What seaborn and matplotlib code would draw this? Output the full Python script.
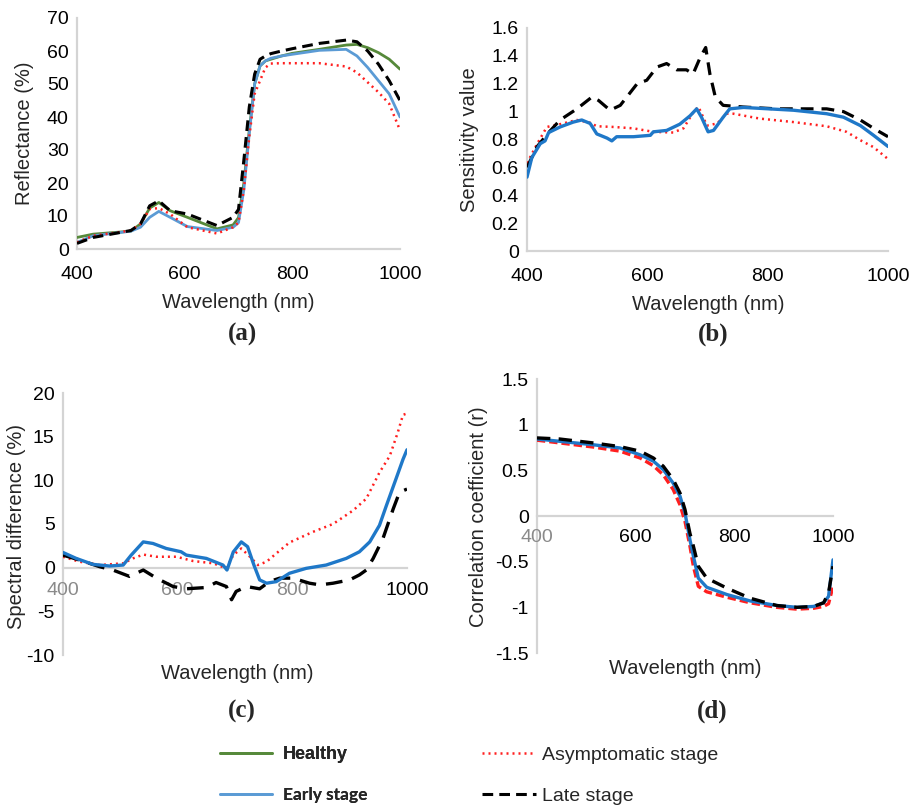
import matplotlib
matplotlib.use("Agg")
import matplotlib.pyplot as plt
import seaborn as sns
import pandas as pd

# ---------------- data ----------------
x_ticks = [400, 600, 800, 1000]
x_tick_labels = ["400", "600", "800", "1000"]

# (a) reflectance
wl_a = [400, 430, 500, 518, 535, 552, 573, 605, 660, 690, 700, 710, 720, 730, 740,
        750, 760, 780, 800, 850, 900, 920, 940, 960, 980, 1000]
refl_healthy = [3.5, 4.5, 5.4, 7.6, 12.4, 14.1, 11.6, 9.6, 6.1, 7.3, 9.5, 20, 36, 50, 55.5,
                57, 57.5, 58.5, 59.3, 60.5, 61.8, 62, 61, 59.5, 57.5, 54.5]
refl_early = [2, 4, 5.4, 6.6, 9.6, 11.4, 9.6, 6.8, 5.6, 6.6, 8, 18, 35, 50, 55.5,
              57, 57.8, 58.5, 59, 60.2, 60.5, 58.5, 55, 51, 47, 40]
refl_asym = [2, 4, 5.6, 7.6, 12.1, 12.4, 10.6, 6.6, 4.7, 6.6, 8, 18, 34, 47, 51,
             55, 56.2, 56.3, 56.3, 56.3, 55.3, 53.5, 50.5, 47.5, 44, 36]
refl_late = [1.7, 3.5, 5.6, 7.6, 13.1, 14.6, 11.6, 10.6, 7.1, 9.6, 12, 27, 43, 53, 57.5,
             58.5, 59.2, 60, 60.7, 62.3, 63.3, 62.8, 60, 56, 51, 45]
yticks_a = [0, 10, 20, 30, 40, 50, 60, 70]
ytl_a = ["0", "10", "20", "30", "40", "50", "60", "70"]

# (b) sensitivity
wl_b_early = [400, 408, 422, 430, 436, 455, 477, 491, 505, 516, 533, 541, 549, 577, 605, 610,
              632, 654, 671, 682, 690, 701, 710, 726, 737, 760, 843, 898, 926, 954, 976, 1000]
sens_early = [0.53, 0.67, 0.77, 0.79, 0.85, 0.89, 0.925, 0.94, 0.915, 0.84, 0.81, 0.79, 0.82, 0.82,
              0.83, 0.855, 0.865, 0.91, 0.97, 1.02, 0.96, 0.855, 0.865, 0.96, 1.02, 1.03, 1.01,
              0.985, 0.96, 0.90, 0.83, 0.75]
wl_b_asym = [400, 417, 433, 455, 483, 505, 516, 544, 577, 610, 643, 660, 677, 685, 699, 716,
             732, 743, 787, 843, 898, 931, 954, 976, 1000]
sens_asym = [0.63, 0.77, 0.89, 0.91, 0.94, 0.92, 0.895, 0.89, 0.88, 0.855, 0.85, 0.88, 1.0, 1.035,
             0.90, 0.915, 0.985, 0.985, 0.95, 0.925, 0.895, 0.855, 0.795, 0.745, 0.66]
wl_b_late = [400, 417, 436, 455, 483, 508, 519, 538, 555, 583, 599, 616, 632, 649, 665, 676,
             688, 697, 704, 713, 726, 760, 815, 898, 926, 954, 976, 1000]
sens_late = [0.60, 0.75, 0.85, 0.94, 1.02, 1.105, 1.08, 1.01, 1.045, 1.20, 1.225, 1.32, 1.345,
             1.30, 1.30, 1.27, 1.39, 1.46, 1.27, 1.105, 1.045, 1.033, 1.02, 1.02, 1.0, 0.94,
             0.88, 0.82]
yticks_b = [0, 0.2, 0.4, 0.6, 0.8, 1.0, 1.2, 1.4, 1.6]
ytl_b = ["0", "0.2", "0.4", "0.6", "0.8", "1", "1.2", "1.4", "1.6"]

# (c) spectral difference
wl_c_early = [400, 423, 452, 481, 505, 519, 540, 557, 580, 606, 615, 650, 679, 686, 697, 711,
              722, 733, 743, 755, 772, 795, 824, 859, 894, 917, 935, 952, 964, 981, 993, 1000]
diff_early = [1.74, 1.06, 0.38, 0.19, 0.3, 1.44, 2.95, 2.77, 2.2, 1.82, 1.44, 1.06, 0.3, -0.27,
              1.8, 2.95, 2.4, 0.3, -1.4, -1.78, -1.6, -0.64, -0.08, 0.3, 1.06, 1.82, 2.95, 4.85,
              7.1, 10.2, 12.4, 13.5]
wl_c_asym = [400, 429, 464, 505, 522, 540, 563, 598, 627, 662, 685, 697, 711, 726, 740, 755,
             772, 795, 836, 871, 906, 929, 952, 970, 984, 993, 1000]
diff_asym = [1.25, 0.68, 0.3, 0.5, 1.06, 1.5, 1.25, 1.25, 0.76, 0.5, -0.08, 1.44, 2.2, 1.25, 0.3,
             0.68, 1.63, 2.88, 4.1, 5.0, 6.55, 7.9, 10.9, 12.8, 15.5, 17.5, 17.65]
wl_c_late = [400, 429, 464, 487, 516, 540, 563, 592, 615, 650, 667, 685, 694, 702, 720, 743,
             760, 778, 801, 830, 848, 871, 900, 917, 929, 941, 958, 976, 987, 1000]
diff_late = [1.44, 0.87, 0.11, -0.27, -1.0, -0.27, -1.2, -2.16, -2.42, -2.27, -1.7, -2.16, -3.67,
             -2.72, -2.16, -2.42, -1.59, -1.2, -1.2, -1.78, -1.97, -1.78, -1.4, -0.83, -0.27,
             1.06, 3.33, 6.74, 8.64, 9.0]
yticks_c = [-10, -5, 0, 5, 10, 15, 20]
ytl_c = ["-10", "-5", "0", "5", "10", "15", "20"]

# (d) correlation coefficient
wl_d = [400, 446, 514, 568, 609, 636, 656, 676, 690, 700, 710, 717, 727, 744, 785, 832, 886,
        927, 961, 981, 991, 1000]
corr_early = [0.843, 0.818, 0.78, 0.745, 0.67, 0.6, 0.507, 0.36, 0.215, 0.033, -0.26, -0.44,
              -0.68, -0.78, -0.86, -0.93, -0.98, -1.0, -0.99, -0.95, -0.88, -0.48]
corr_asym = [0.83, 0.80, 0.755, 0.71, 0.635, 0.55, 0.45, 0.29, 0.12, -0.06, -0.33, -0.55, -0.77,
             -0.83, -0.89, -0.95, -1.0, -1.02, -1.01, -0.99, -0.96, -0.77]
corr_late = [0.855, 0.843, 0.80, 0.76, 0.71, 0.635, 0.545, 0.40, 0.25, 0.07, -0.19, -0.33, -0.55,
             -0.68, -0.79, -0.90, -0.98, -1.0, -0.99, -0.95, -0.84, -0.55]
yticks_d = [-1.5, -1.0, -0.5, 0, 0.5, 1.0, 1.5]
ytl_d = ["-1.5", "-1", "-0.5", "0", "0.5", "1", "1.5"]

series_names = ["Healthy", "Early stage", "Asymptomatic stage", "Late stage"]

# ---------------- style ----------------
sns.set_theme(style="white")
plt.rcParams['font.family'] = ['Liberation Sans', 'DejaVu Sans']

GREEN = "#56893a"
LBLUE = "#5b9bd5"
BLUE = "#1f78c8"
RED = "#ff1f1f"
BLACK = "#000000"
AXC = "#d4d4d4"

W, H = 917, 805
fig = plt.figure(figsize=(W / 100, H / 100), dpi=100)


def ax_at(l, r, t, b):
    return fig.add_axes([l / W, 1 - b / H, (r - l) / W, (b - t) / H])


axA = ax_at(77, 400, 18, 249)
axB = ax_at(527, 888, 28, 251)
axC = ax_at(63, 407, 393, 655)
axD = ax_at(537, 833, 379, 653)


def line(ax, x, y, color, lw, ls, label=None, z=2):
    df = pd.DataFrame({"wl": x, "v": y})
    sns.lineplot(data=df, x="wl", y="v", ax=ax, color=color, linewidth=lw,
                 linestyle=ls, label=label, legend=False, zorder=z)


DOT = (0, (0.8, 1.6))

# (a)
line(axA, wl_a, refl_healthy, GREEN, 2.0, "-", series_names[0])
line(axA, wl_a, refl_early, LBLUE, 2.0, "-", series_names[1])
line(axA, wl_a, refl_asym, RED, 1.8, DOT, series_names[2])
line(axA, wl_a, refl_late, BLACK, 2.2, (0, (3.5, 2.0)), series_names[3])

# (b)
line(axB, wl_b_asym, sens_asym, RED, 1.8, DOT)
line(axB, wl_b_late, sens_late, BLACK, 2.3, (0, (4.0, 2.5)))
line(axB, wl_b_early, sens_early, BLUE, 2.4, "-")

# (c)
line(axC, wl_c_asym, diff_asym, RED, 1.8, DOT)
line(axC, wl_c_late, diff_late, BLACK, 2.4, (0, (5.0, 3.0)))
line(axC, wl_c_early, diff_early, BLUE, 2.4, "-")

# (d)
line(axD, wl_d, corr_asym, RED, 2.4, (0, (2.5, 1.2)))
line(axD, wl_d, corr_early, BLUE, 2.4, "-")
line(axD, wl_d, corr_late, BLACK, 2.4, (0, (4.0, 2.5)))


def style(ax, yticks, ytl, ylim, ylabel, ylab_xy, xlab_xy, zero_axis, xpad, grey_labels=()):
    ax.set_xlim(400, 1000)
    ax.set_ylim(*ylim)
    ax.set_xticks(x_ticks)
    ax.set_xticklabels(x_tick_labels)
    ax.set_yticks(yticks)
    ax.set_yticklabels(ytl)
    for s in ["top", "right"]:
        ax.spines[s].set_visible(False)
    for s in ["left", "bottom"]:
        ax.spines[s].set_color(AXC)
        ax.spines[s].set_linewidth(1.6)
        ax.spines[s].set_zorder(0.5)
    if zero_axis:
        ax.spines["bottom"].set_position(("data", 0))
    ax.tick_params(axis="both", length=0, labelsize=14, colors="#000000")
    ax.tick_params(axis="x", pad=xpad)
    ax.tick_params(axis="y", pad=6)
    for t in ax.get_xticklabels():
        if t.get_text() in grey_labels:
            t.set_color("#8a8a8a")
    ax.set_xlabel("Wavelength (nm)", fontsize=14.5)
    ax.set_ylabel(ylabel, fontsize=14.5)
    ax.xaxis.set_label_coords(*xlab_xy)
    ax.yaxis.set_label_coords(*ylab_xy)
    ax.xaxis.label.set_va("center")
    ax.yaxis.label.set_va("center")
    ax.patch.set_alpha(0)


style(axA, yticks_a, ytl_a, (0, 70), "Reflectance (%)", (-0.161, 0.5), (0.498, -0.233), False, 12)
style(axB, yticks_b, ytl_b, (0, 1.6), "Sensitivity value", (-0.158, 0.498), (0.501, -0.242), False, 12)
style(axC, yticks_c, ytl_c, (-10, 20), "Spectral difference (%)", (-0.134, 0.489), (0.506, -0.069),
      True, 10, grey_labels=("400", "600", "800"))
style(axD, yticks_d, ytl_d, (-1.5, 1.5), "Correlation coefficient (r)", (-0.199, 0.496), (0.5, -0.055),
      True, 9, grey_labels=("400",))

# panel letters
for lab, (px, py) in zip(["(a)", "(b)", "(c)", "(d)"],
                         [(243, 334), (713, 334), (242, 711), (712, 711)]):
    fig.text(px / W, 1 - py / H, lab, ha="center", va="center", fontsize=18,
             fontweight="bold", family=["Liberation Serif", "DejaVu Serif"])

# legend
handles, labels = axA.get_legend_handles_labels()
leg1 = fig.legend(handles[:2], labels[:2], loc="upper left",
                  bbox_to_anchor=(220 / W, 1 - 746 / H), frameon=False,
                  fontsize=13, handlelength=2.9, handletextpad=0.6,
                  labelspacing=1.33, borderpad=0, borderaxespad=0)
t1, t2 = leg1.get_texts()
t1.set_fontweight("bold")
t2.set_family(["Lato", "DejaVu Sans"])
t2.set_fontweight("bold")
t2.set_fontsize(12.5)

leg2 = fig.legend(handles[2:], labels[2:], loc="upper left",
                  bbox_to_anchor=(482 / W, 1 - 746 / H), frameon=False,
                  fontsize=14, handlelength=2.8, handletextpad=0.3,
                  labelspacing=1.2, borderpad=0, borderaxespad=0)
fig.add_artist(leg1)

fig.savefig("out.png", dpi=100, facecolor="white")
